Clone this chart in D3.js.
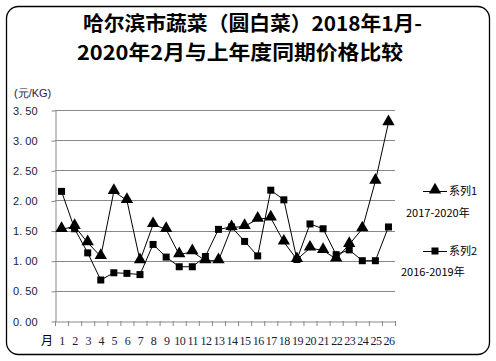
<!DOCTYPE html>
<html><head><meta charset="utf-8">
<script src="https://cdn.jsdelivr.net/npm/d3@7"></script>
<style>body{margin:0;background:#fff}svg{display:block}</style>
</head><body>
<script>
const categories = d3.range(1, 27).map(String);
const series1 = [1.52,1.57,1.30,1.07,2.15,2.00,1.00,1.60,1.52,1.10,1.15,1.00,1.00,1.55,1.57,1.69,1.71,1.31,1.02,1.21,1.17,1.03,1.27,1.53,2.32,3.29];
const series2 = [2.15,1.53,1.13,0.68,0.80,0.79,0.77,1.27,1.06,0.90,0.90,1.07,1.52,1.56,1.32,1.08,2.17,2.01,1.02,1.61,1.53,1.10,1.18,1.00,1.00,1.56];
const yTicks = [0,0.5,1,1.5,2,2.5,3,3.5];
const titleLines = ["哈尔滨市蔬菜（圆白菜）2018年1月-","2020年2月与上年度同期价格比较"];
const legendNames = ["系列1","系列2"];
const legendSub = ["2017-2020年","2016-2019年"];

const W=496,H=361;
const svg=d3.select("body").append("svg").attr("width",W).attr("height",H);
svg.append("rect").attr("x",6.5).attr("y",6.5).attr("width",483).attr("height",348).attr("rx",12)
  .attr("fill","#fff").attr("stroke","#000").attr("stroke-width",1.3);

const font="'Liberation Sans','DejaVu Sans',sans-serif";
const cjk="'Noto Sans CJK SC',sans-serif";
svg.append("text").attr("x",83).attr("y",31).attr("font-family",cjk).attr("font-weight","bold")
  .attr("font-size",20).attr("textLength",339).attr("lengthAdjust","spacingAndGlyphs").text(titleLines[0]);
svg.append("text").attr("x",77).attr("y",60).attr("font-family",cjk).attr("font-weight","bold")
  .attr("font-size",20).attr("textLength",326).attr("lengthAdjust","spacingAndGlyphs").text(titleLines[1]);

const x=d3.scaleBand().domain(categories).range([55,395]);
const y=d3.scaleLinear().domain([0,3.5]).range([321,110]);

// grid
svg.append("g").selectAll("line").data(yTicks.filter(d=>d>0)).join("line")
  .attr("x1",55).attr("x2",395).attr("y1",d=>Math.round(y(d))+0.5).attr("y2",d=>Math.round(y(d))+0.5)
  .attr("stroke","#888").attr("stroke-width",1);

// y axis
const ya=svg.append("g").attr("transform","translate(55.5,0.5)")
  .call(d3.axisLeft(y).tickValues(yTicks).tickSize(4).tickSizeOuter(0).tickFormat(d=>d3.format(".2f")(d).replace(".",". ")));
ya.select(".domain").attr("stroke","#888");
ya.selectAll(".tick line").attr("stroke","#888");
ya.selectAll("text").attr("font-family",font).attr("font-size",11).attr("fill","#1a1a3a").attr("x",-18);

// x axis
const xa=svg.append("g").attr("transform","translate(0.5,321.5)")
  .call(d3.axisBottom(x).tickSize(0).tickSizeOuter(0));
xa.select(".domain").attr("stroke","#888");
xa.selectAll("text").attr("font-family","'Liberation Serif',serif").attr("font-size",12).attr("fill","#1a1a3a")
  .attr("y",23).attr("dy",0).attr("letter-spacing",-0.5);
svg.append("g").selectAll("line").data(categories.concat(["end"])).join("line")
  .attr("x1",(d,i)=>55.5+i*x.step()).attr("x2",(d,i)=>55.5+i*x.step())
  .attr("y1",321).attr("y2",326).attr("stroke","#888");
svg.append("text").attr("x",47).attr("y",345).attr("text-anchor","middle")
  .attr("font-family",cjk).attr("font-size",12).text("月");
svg.append("text").attr("x",14).attr("y",97).attr("font-family",font).attr("font-size",11).attr("fill","#1a1a3a").text("(元/KG)");

const cx=d=>x(d)+x.bandwidth()/2;
const line=d3.line().x((d,i)=>cx(categories[i])).y(d=>y(d));
svg.append("path").datum(series2).attr("d",line).attr("fill","none").attr("stroke","#000").attr("stroke-width",1);
svg.append("path").datum(series1).attr("d",line).attr("fill","none").attr("stroke","#000").attr("stroke-width",1);
const tri=d3.symbol().type(d3.symbolTriangle).size(66);
const sq=d3.symbol().type(d3.symbolSquare).size(49);
svg.append("g").selectAll("path").data(series2).join("path").attr("d",sq)
  .attr("transform",(d,i)=>`translate(${cx(categories[i])},${y(d)})`).attr("fill","#000");
svg.append("g").selectAll("path").data(series1).join("path").attr("d",tri)
  .attr("transform",(d,i)=>`translate(${cx(categories[i])},${y(d)-1})`).attr("fill","#000");

// legend
const ly=[191,251];
[0,1].forEach(k=>{
  svg.append("line").attr("x1",423).attr("x2",447).attr("y1",ly[k]+0.5).attr("y2",ly[k]+0.5).attr("stroke","#000");
  svg.append("path").attr("d",k===0?tri:sq).attr("transform",`translate(435,${ly[k]-(k===0?1:0)})`).attr("fill","#000");
  svg.append("text").attr("x",449).attr("y",ly[k]+4).attr("font-family",cjk).attr("font-size",11).text(legendNames[k]);
});
svg.append("text").attr("x",406).attr("y",217).attr("font-family",cjk).attr("font-size",11).text(legendSub[0]);
svg.append("text").attr("x",401).attr("y",276).attr("font-family",cjk).attr("font-size",11).text(legendSub[1]);
</script>
</body></html>
